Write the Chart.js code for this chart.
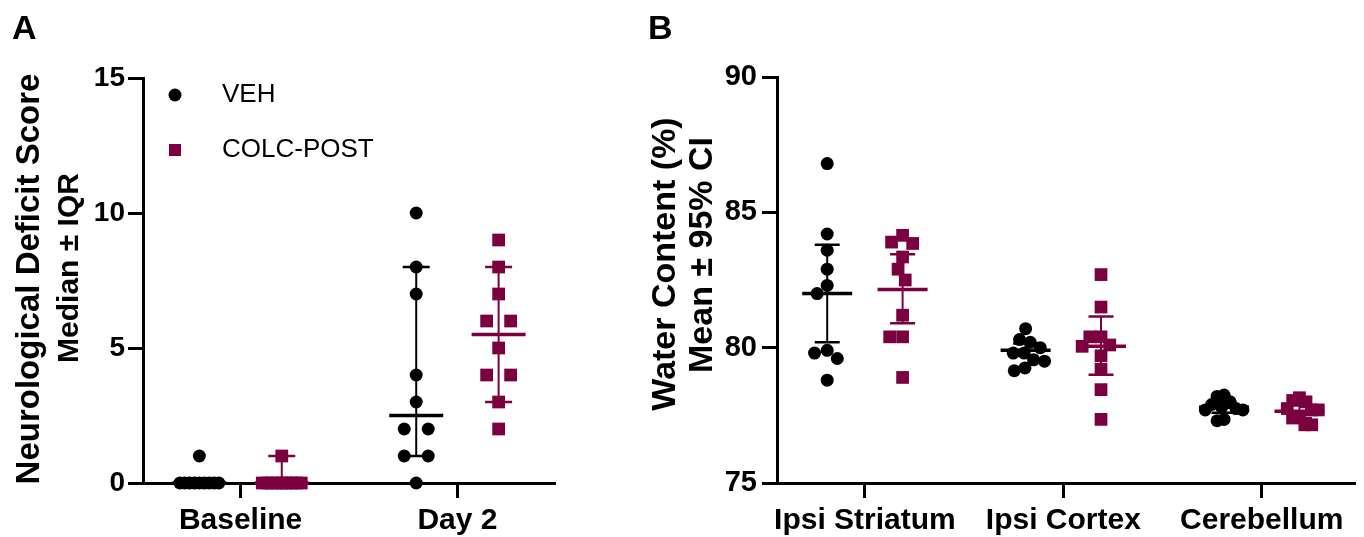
<!DOCTYPE html>
<html>
<head>
<meta charset="utf-8">
<title>Neurological deficit score and brain water content</title>
<script src="https://cdn.jsdelivr.net/npm/chart.js@4.4.0/dist/chart.umd.min.js"></script>
<style>
  body { margin: 0; background: #fff; }
  #wrap { position: relative; width: 1364px; height: 537px; }
  canvas { position: absolute; top: 0; }
  #chartA { left: 0; }
  #chartB { left: 600px; }
</style>
</head>
<body>
<div id="wrap">
  <canvas id="chartA" width="600" height="537"></canvas>
  <canvas id="chartB" width="764" height="537"></canvas>
</div>
<script>
// ---- Panel A: neurological deficit score (median + IQR) ----
const daysA = ['Baseline', 'Day 2'];
const vehBaselineA = [0, 0, 0, 0, 0, 0, 0, 0, 0, 1];
const vehDay2A = [10, 8, 7, 4, 3, 2, 2, 1, 1, 0];
const colcBaselineA = [0, 0, 0, 0, 0, 0, 0, 0, 0, 1];
const colcDay2A = [9, 8, 7, 6, 6, 5, 4, 4, 3, 2];
const vehMedianA = [0, 2.5];
const vehQ1A = [0, 1];
const vehQ3A = [0, 8];
const colcMedianA = [0, 5.5];
const colcQ1A = [0, 3];
const colcQ3A = [1, 8];
const ticksA = [0, 5, 10, 15];

// ---- Panel B: water content (mean + 95% CI) ----
const regionsB = ['Ipsi Striatum', 'Ipsi Cortex', 'Cerebellum'];
const vehStriatumB = [86.8, 84.2, 83.6, 82.9, 82.3, 82.0, 79.9, 79.8, 79.6, 78.8];
const vehCortexB = [80.7, 80.3, 80.2, 80.0, 79.8, 79.8, 79.55, 79.5, 79.25, 79.15];
const vehCerebellumB = [78.25, 78.2, 78.0, 77.9, 77.8, 77.75, 77.7, 77.7, 77.35, 77.3];
const colcStriatumB = [84.15, 83.9, 83.85, 83.35, 82.9, 82.5, 81.2, 80.4, 80.4, 78.9];
const colcCortexB = [82.7, 81.5, 80.4, 80.4, 80.1, 80.05, 79.7, 79.2, 78.45, 77.35];
const colcCerebellumB = [78.15, 78.05, 78.0, 77.75, 77.7, 77.7, 77.45, 77.4, 77.15, 77.15];
const vehMeanB = [82.0, 79.9, 77.8];
const vehLowB = [80.2, 79.7, 77.6];
const vehHighB = [83.8, 80.15, 78.0];
const colcMeanB = [82.15, 80.05, 77.65];
const colcLowB = [80.9, 79.0, 77.4];
const colcHighB = [83.45, 81.15, 77.9];
const ticksB = [75, 80, 85, 90];

const BLACK = '#000000';
const MAROON = '#7b003f';
const SIDE = 0.19; // group offset from category centre
const FONT = "'Liberation Sans', Arial, sans-serif";

Chart.defaults.font.family = FONT;
Chart.defaults.color = BLACK;

// equal scores sit in one row, spread symmetrically (like prism does it)
function spreadRows(values, kx) {
    const counts = {};
    values.forEach(v => counts[v] = (counts[v] || 0) + 1);
    const seen = {};
    return values.map(v => {
        const n = counts[v];
        seen[v] = seen[v] === undefined ? 0 : seen[v] + 1;
        const gap = n > 1 ? Math.min(24, 39 / (n - 1)) : 0;
        return (seen[v] - (n - 1) / 2) * gap / kx;
    });
}

// simple greedy beeswarm, squeezed into +-maxHalf px
function beeswarm(values, kx, ky, dot, maxHalf) {
    const order = values.map((v, i) => i).sort((a, b) => values[b] - values[a]);
    const placed = [];
    const xs = new Array(values.length).fill(0);
    order.forEach(i => {
        const y = values[i] * ky;
        const near = placed.filter(p => Math.abs(p.y - y) < dot);
        const cands = [0];
        near.forEach(p => {
            const dx = Math.sqrt(dot * dot - (p.y - y) ** 2);
            cands.push(p.x - dx, p.x + dx);
        });
        cands.sort((a, b) => Math.abs(a) - Math.abs(b));
        const x = cands.find(c => near.every(p => Math.hypot(p.x - c, p.y - y) >= dot - 0.01));
        placed.push({ x: x, y: y });
        xs[i] = x;
    });
    const widest = Math.max(...xs.map(Math.abs));
    const squeeze = widest > maxHalf ? maxHalf / widest : 1;
    return xs.map(x => x * squeeze / kx);
}

function toPoints(values, centre, offsets) {
    return values.map((v, i) => ({ x: centre + offsets[i], y: v }));
}

function errorBarPlugin(groups, halfMean, halfCap) {
    return {
        id: 'errorBars',
        afterDatasetsDraw(chart) {
            const { ctx, scales: { x, y } } = chart;
            ctx.save();
            groups.forEach(g => {
                const px = x.getPixelForValue(g.x);
                const pc = y.getPixelForValue(g.center);
                const pl = y.getPixelForValue(g.low);
                const ph = y.getPixelForValue(g.high);
                ctx.strokeStyle = g.color;
                ctx.lineWidth = 2;
                ctx.beginPath();
                ctx.moveTo(px, pl);
                ctx.lineTo(px, ph);
                ctx.stroke();
                ctx.lineWidth = 2.5;
                ctx.beginPath();
                ctx.moveTo(px - halfCap, pl); ctx.lineTo(px + halfCap, pl);
                ctx.moveTo(px - halfCap, ph); ctx.lineTo(px + halfCap, ph);
                ctx.stroke();
                ctx.lineWidth = 3.5;
                ctx.beginPath();
                ctx.moveTo(px - halfMean, pc);
                ctx.lineTo(px + halfMean, pc);
                ctx.stroke();
            });
            ctx.restore();
        }
    };
}

// panel letter, rotated y titles and the legend
function extrasPlugin(letter, letterX, titles, legendItems) {
    return {
        id: 'panelExtras',
        afterDraw(chart) {
            const ctx = chart.ctx;
            ctx.save();
            ctx.fillStyle = BLACK;
            ctx.font = 'bold 34px ' + FONT;
            ctx.textAlign = 'left';
            ctx.textBaseline = 'alphabetic';
            ctx.fillText(letter, letterX, 39);

            titles.forEach(t => {
                ctx.save();
                ctx.translate(t.x, t.y);
                ctx.rotate(-Math.PI / 2);
                ctx.font = 'bold ' + t.size + 'px ' + FONT;
                ctx.textAlign = 'center';
                ctx.textBaseline = 'middle';
                ctx.fillText(t.text, 0, 0);
                ctx.restore();
            });

            (legendItems || []).forEach(item => {
                ctx.fillStyle = item.color;
                if (item.style === 'circle') {
                    ctx.beginPath();
                    ctx.arc(item.x, item.y, 6.5, 0, Math.PI * 2);
                    ctx.fill();
                } else {
                    ctx.fillRect(item.x - 6, item.y - 6, 12, 12);
                }
                ctx.fillStyle = BLACK;
                ctx.font = '26px ' + FONT;
                ctx.textAlign = 'left';
                ctx.textBaseline = 'middle';
                ctx.fillText(item.label, item.x + 47, item.y);
            });
            ctx.restore();
        }
    };
}

function xAxis(min, max, labels, height) {
    return {
        type: 'linear',
        min: min,
        max: max,
        afterBuildTicks: s => { s.ticks = labels.map((l, i) => ({ value: i + 1 })); },
        afterFit: s => { s.height = height; },
        ticks: {
            callback: v => labels[v - 1],
            font: { size: 30, weight: 'bold' },
            color: BLACK,
            padding: 5,
            maxRotation: 0,
            autoSkip: false
        },
        grid: { drawOnChartArea: false, tickLength: 15, tickWidth: 3, tickColor: BLACK },
        border: { color: BLACK, width: 3 }
    };
}

function yAxis(tickValues, width, fontSize, pad) {
    return {
        type: 'linear',
        min: tickValues[0],
        max: tickValues[tickValues.length - 1],
        afterBuildTicks: s => { s.ticks = tickValues.map(v => ({ value: v })); },
        afterFit: s => { s.width = width; },
        ticks: { font: { size: fontSize, weight: 'bold' }, color: BLACK, padding: pad },
        grid: { drawOnChartArea: false, tickLength: 15, tickWidth: 3, tickColor: BLACK },
        border: { color: BLACK, width: 3 }
    };
}

function scatterSet(label, data, color, style, radius) {
    return {
        label: label,
        data: data,
        pointStyle: style,
        pointRadius: radius,
        pointHoverRadius: radius,
        pointBackgroundColor: color,
        pointBorderWidth: 0,
        backgroundColor: color,
        clip: false
    };
}

// ---- build panel A ----
const kxA = 217, kyA = 27;
const vehPointsA = [
    ...toPoints(vehBaselineA, 1 - SIDE, spreadRows(vehBaselineA, kxA)),
    ...toPoints(vehDay2A, 2 - SIDE, spreadRows(vehDay2A, kxA))
];
const colcPointsA = [
    ...toPoints(colcBaselineA, 1 + SIDE, spreadRows(colcBaselineA, kxA)),
    ...toPoints(colcDay2A, 2 + SIDE, spreadRows(colcDay2A, kxA))
];
const barsA = [];
daysA.forEach((d, i) => {
    barsA.push({ x: i + 1 - SIDE, center: vehMedianA[i], low: vehQ1A[i], high: vehQ3A[i], color: BLACK });
    barsA.push({ x: i + 1 + SIDE, center: colcMedianA[i], low: colcQ1A[i], high: colcQ3A[i], color: MAROON });
});

new Chart(document.getElementById('chartA'), {
    type: 'scatter',
    data: {
        datasets: [
            scatterSet('VEH', vehPointsA, BLACK, 'circle', 6.5),
            scatterSet('COLC-POST', colcPointsA, MAROON, 'rect', 9)
        ]
    },
    options: {
        responsive: false,
        animation: false,
        events: [],
        layout: { padding: { top: 78, right: 45, bottom: 0, left: 0 } },
        scales: {
            x: xAxis(0.55, 2.45, daysA, 54),
            y: yAxis(ticksA, 143, 28, 3)
        },
        plugins: { legend: { display: false }, tooltip: { enabled: false } }
    },
    plugins: [
        errorBarPlugin(barsA, 27, 13.5),
        extrasPlugin('A', 12, [
            { text: 'Neurological Deficit Score', x: 30, y: 279, size: 33 },
            { text: 'Median \u00b1 IQR', x: 70, y: 268, size: 30 }
        ], [
            { label: 'VEH', style: 'circle', color: BLACK, x: 175, y: 95 },
            { label: 'COLC-POST', style: 'rect', color: MAROON, x: 175, y: 150 }
        ])
    ]
});

// ---- build panel B ----
const kxB = 199.7, kyB = 27.07;
const vehGroupsB = [vehStriatumB, vehCortexB, vehCerebellumB];
const colcGroupsB = [colcStriatumB, colcCortexB, colcCerebellumB];
const vehPointsB = [];
const colcPointsB = [];
const barsB = [];
regionsB.forEach((r, i) => {
    vehPointsB.push(...toPoints(vehGroupsB[i], i + 1 - SIDE, beeswarm(vehGroupsB[i], kxB, kyB, 13, 19)));
    colcPointsB.push(...toPoints(colcGroupsB[i], i + 1 + SIDE, beeswarm(colcGroupsB[i], kxB, kyB, 13, 19)));
    barsB.push({ x: i + 1 - SIDE, center: vehMeanB[i], low: vehLowB[i], high: vehHighB[i], color: BLACK });
    barsB.push({ x: i + 1 + SIDE, center: colcMeanB[i], low: colcLowB[i], high: colcHighB[i], color: MAROON });
});

new Chart(document.getElementById('chartB'), {
    type: 'scatter',
    data: {
        datasets: [
            scatterSet('VEH', vehPointsB, BLACK, 'circle', 6.5),
            scatterSet('COLC-POST', colcPointsB, MAROON, 'rect', 9)
        ]
    },
    options: {
        responsive: false,
        animation: false,
        events: [],
        layout: { padding: { top: 77, right: 5, bottom: 0, left: 0 } },
        scales: {
            x: xAxis(0.557, 3.47, regionsB, 54),
            y: yAxis(ticksB, 177, 29, 5)
        },
        plugins: { legend: { display: false }, tooltip: { enabled: false } }
    },
    plugins: [
        errorBarPlugin(barsB, 25, 12.5),
        extrasPlugin('B', 48, [
            { text: 'Water Content (%)', x: 66, y: 264, size: 34 },
            { text: 'Mean \u00b1 95% CI', x: 103, y: 255, size: 34 }
        ])
    ]
});
</script>
</body>
</html>
